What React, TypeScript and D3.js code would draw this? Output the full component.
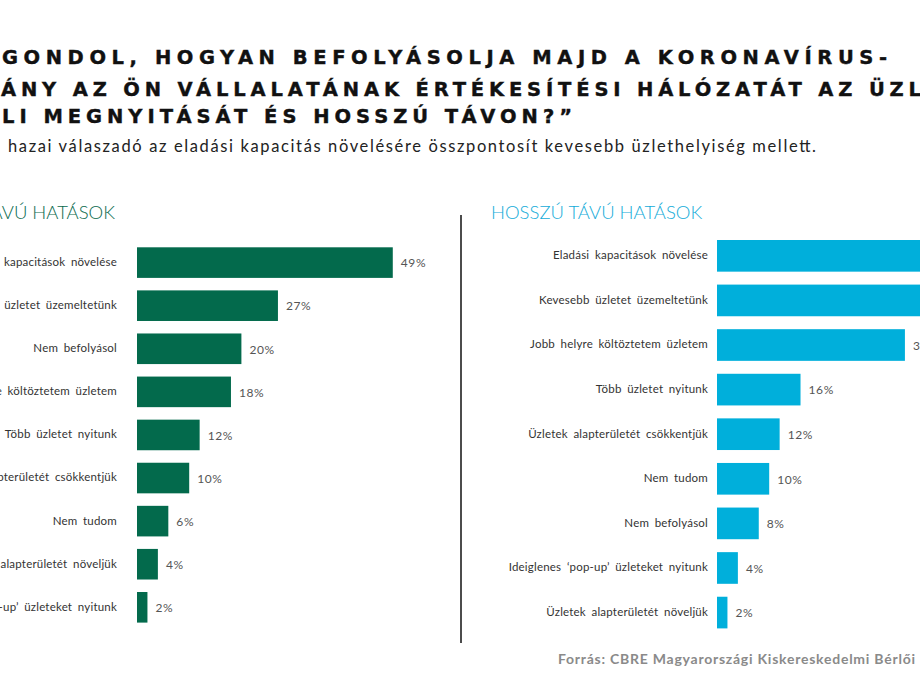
import React from "react";
import * as d3 from "d3";

const titleLines = [
  "GONDOL, HOGYAN BEFOLYÁSOLJA MAJD A KORONAVÍRUS-",
  "ÁNY AZ ÖN VÁLLALATÁNAK ÉRTÉKESÍTÉSI HÁLÓZATÁT AZ ÜZL",
  "LI MEGNYITÁSÁT ÉS HOSSZÚ TÁVON?”",
];
const subtitle =
  "hazai válaszadó az eladási kapacitás növelésére összpontosít kevesebb üzlethelyiség mellett.";
const source = "Forrás: CBRE Magyarországi Kiskereskedelmi Bérlői";

const shortTitle = "RÖVID TÁVÚ HATÁSOK";
const shortCategories = [
  "Eladási kapacitások növelése",
  "Kevesebb üzletet üzemeltetünk",
  "Nem befolyásol",
  "Jobb helyre költöztetem üzletem",
  "Több üzletet nyitunk",
  "Üzletek alapterületét csökkentjük",
  "Nem tudom",
  "Üzletek alapterületét növeljük",
  "Ideiglenes ‘pop-up’ üzleteket nyitunk",
];
const shortValues = [49, 27, 20, 18, 12, 10, 6, 4, 2];

const longTitle = "HOSSZÚ TÁVÚ HATÁSOK";
const longCategories = [
  "Eladási kapacitások növelése",
  "Kevesebb üzletet üzemeltetünk",
  "Jobb helyre költöztetem üzletem",
  "Több üzletet nyitunk",
  "Üzletek alapterületét csökkentjük",
  "Nem tudom",
  "Nem befolyásol",
  "Ideiglenes ‘pop-up’ üzleteket nyitunk",
  "Üzletek alapterületét növeljük",
];
const longValues = [45, 42, 36, 16, 12, 10, 8, 4, 2];

const FONT = "Lato, 'Open Sans', sans-serif";
const TITLE_FONT = "'DejaVu Sans', Lato, sans-serif";

type PanelProps = {
  cats: string[];
  vals: number[];
  x0: number;
  y0: number;
  y1: number;
  color: string;
  labelGap: number;
};

function Panel({ cats, vals, x0, y0, y1, color, labelGap }: PanelProps) {
  const x = d3.scaleLinear().domain([0, 50]).range([x0, x0 + 261]);
  const y = d3.scaleBand<string>().domain(cats).range([y0, y1]).paddingInner(0.29).paddingOuter(0);
  return (
    <g>
      {cats.map((c, i) => {
        const yy = y(c)!;
        const bw = y.bandwidth();
        return (
          <g key={c}>
            <rect x={x(0)} y={yy} width={x(vals[i]) - x(0)} height={bw} fill={color} />
            <text
              x={x(0) - labelGap}
              y={yy + bw / 2}
              dy="0.3em"
              textAnchor="end"
              fontFamily={FONT}
              fontSize={11.5}
              fill="#333"
              letterSpacing="0.2"
              style={{ wordSpacing: "2.5px" }}
            >
              {c}
            </text>
            <text
              x={x(vals[i]) + 8}
              y={yy + bw / 2}
              dy="0.4em"
              fontFamily={FONT}
              fontSize={12}
              fill="#555"
              letterSpacing="0.6"
            >
              {vals[i]}%
            </text>
          </g>
        );
      })}
    </g>
  );
}

export default function App() {
  return (
    <svg
      width={920}
      height={690}
      style={{ position: "absolute", left: 0, top: 0, background: "#fff" }}
    >
      <rect x={0} y={0} width={920} height={690} fill="#fff" />
      <text x={2} y={64} fontFamily={TITLE_FONT} fontWeight={700} fontSize={19.5} fill="#111" stroke="#111" strokeWidth={0.4} textLength={885} lengthAdjust="spacing">
        {titleLines[0]}
      </text>
      <text x={1} y={95.5} fontFamily={TITLE_FONT} fontWeight={700} fontSize={19.5} fill="#111" stroke="#111" strokeWidth={0.4} textLength={920} lengthAdjust="spacing">
        {titleLines[1]}
      </text>
      <text x={2} y={122.5} fontFamily={TITLE_FONT} fontWeight={700} fontSize={19.5} fill="#111" stroke="#111" strokeWidth={0.4} textLength={570} lengthAdjust="spacing">
        {titleLines[2]}
      </text>
      <text x={8} y={152} fontFamily={FONT} fontWeight={400} fontSize={16.5} fill="#222" textLength={808} lengthAdjust="spacing">
        {subtitle}
      </text>

      <text x={115} y={219} textAnchor="end" fontFamily={FONT} fontWeight={300} fontSize={18.5} fill="#0b6b4f">
        {shortTitle}
      </text>
      <text x={491} y={219} fontFamily={FONT} fontWeight={300} fontSize={18.5} fill="#14acd9">
        {longTitle}
      </text>

      <line x1={461} x2={461} y1={215} y2={643} stroke="#111" strokeWidth={1.5} />

      <Panel cats={shortCategories} vals={shortValues} x0={137} y0={247.3} y1={622.6} color="#036a4c" labelGap={20} />
      <Panel cats={longCategories} vals={longValues} x0={717} y0={240} y1={628.4} color="#00afdb" labelGap={9} />

      <text x={558} y={664} fontFamily={FONT} fontWeight={700} fontSize={14} fill="#8a8a8a" textLength={357} lengthAdjust="spacing">
        {source}
      </text>
    </svg>
  );
}
